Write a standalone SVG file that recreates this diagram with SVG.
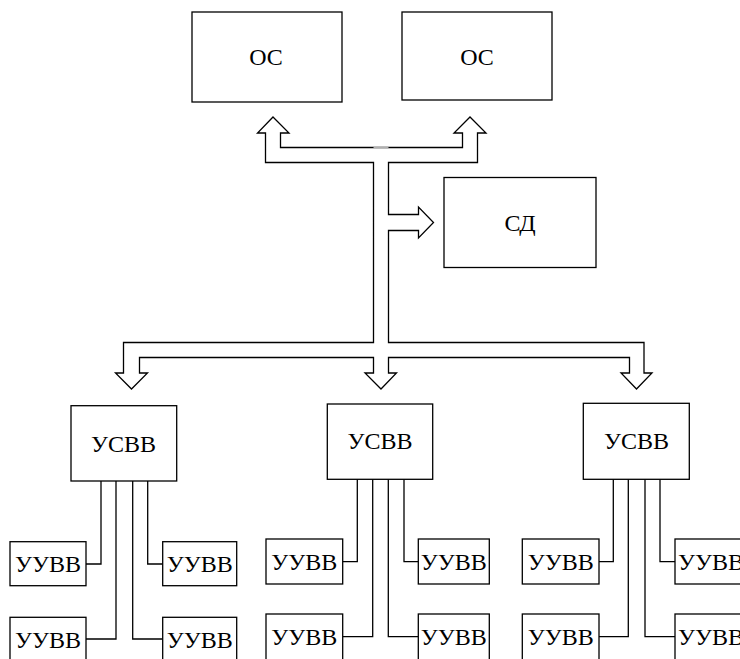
<svg xmlns="http://www.w3.org/2000/svg" width="740" height="659" viewBox="0 0 740 659">
<style>
  .box { fill: #fff; stroke: #000; stroke-width: 1.3; }
  .lbl { font-family: "Liberation Serif", "Times New Roman", serif; font-size: 24px; fill: #000; text-anchor: middle; }
  .ln { fill: none; stroke: #000; stroke-width: 1.3; }
  .bus { fill: #fff; stroke: #000; stroke-width: 1.3; stroke-linejoin: miter; }
</style>
<rect width="740" height="659" fill="#fff"/>

<g id="connectors">
  <path class="bus" d="M273,117 L289,133 L280.5,133 L280.5,147.5 L462.5,147.5 L462.5,133 L454,133 L470,117 L486,133 L477.5,133 L477.5,162.5 L388.5,162.5 L388.5,214.5 L418.5,214.5 L418.5,207 L433.5,222.5 L418.5,238 L418.5,230.5 L388.5,230.5 L388.5,342.5 L644,342.5 L644,373 L652,373 L636.5,389 L621,373 L629.5,373 L629.5,357.5 L388.5,357.5 L388.5,373 L396.5,373 L381,389 L365,373 L373.5,373 L373.5,357.5 L139.5,357.5 L139.5,373 L147.5,373 L131.5,389 L115.5,373 L123.5,373 L123.5,342.5 L373.5,342.5 L373.5,162.5 L265.5,162.5 L265.5,133 L257.5,133 Z"/>
  <line x1="373.5" y1="147.5" x2="388.5" y2="147.5" stroke="#b0b0b0" stroke-width="1.3"/>

  <!-- left group -->
  <path class="ln" d="M101,481 V564 H86"/>
  <path class="ln" d="M116,481 V639 H86"/>
  <path class="ln" d="M132.7,481 V639 H162.7"/>
  <path class="ln" d="M147.7,481 V564 H162.7"/>
  <!-- centre group -->
  <path class="ln" d="M357.3,479.3 V561.7 H342.7"/>
  <path class="ln" d="M372.7,479.3 V636.7 H342.7"/>
  <path class="ln" d="M388.3,479.3 V636.7 H418.3"/>
  <path class="ln" d="M404,479.3 V561.7 H418.3"/>
  <!-- right group -->
  <path class="ln" d="M613.3,479.3 V561.7 H599"/>
  <path class="ln" d="M628.3,479.3 V636.7 H599"/>
  <path class="ln" d="M645,479.3 V636.7 H675"/>
  <path class="ln" d="M660,479.3 V561.7 H675"/>
</g>

<g id="os1"><rect class="box" x="192" y="12" width="150" height="90"/><text class="lbl" x="266" y="65">ОС</text></g>
<g id="os2"><rect class="box" x="402" y="12" width="150" height="88"/><text class="lbl" x="477" y="65">ОС</text></g>
<g id="sd"><rect class="box" x="444" y="177.5" width="152" height="90"/><text class="lbl" x="520" y="231">СД</text></g>

<g id="usvv1"><rect class="box" x="71" y="405.7" width="105.7" height="75.3"/><text class="lbl" x="123.5" y="451.5">УСВВ</text></g>
<g id="usvv2"><rect class="box" x="327.3" y="404" width="105.4" height="75.3"/><text class="lbl" x="380" y="448.5">УСВВ</text></g>
<g id="usvv3"><rect class="box" x="583.3" y="403.3" width="106" height="76"/><text class="lbl" x="636.5" y="448.5">УСВВ</text></g>

<g id="uuvv1a"><rect class="box" x="10" y="541.7" width="76" height="44"/><text class="lbl" x="48" y="572">УУВВ</text></g>
<g id="uuvv1b"><rect class="box" x="162.7" y="541.7" width="74" height="44"/><text class="lbl" x="199.7" y="572">УУВВ</text></g>
<g id="uuvv1c"><rect class="box" x="10" y="617.3" width="76" height="44"/><text class="lbl" x="48" y="647.5">УУВВ</text></g>
<g id="uuvv1d"><rect class="box" x="162.7" y="617.3" width="74" height="44"/><text class="lbl" x="199.7" y="647.5">УУВВ</text></g>

<g id="uuvv2a"><rect class="box" x="266" y="539" width="76.7" height="45"/><text class="lbl" x="304.3" y="569.5">УУВВ</text></g>
<g id="uuvv2b"><rect class="box" x="418.3" y="539" width="71" height="45"/><text class="lbl" x="453.8" y="569.5">УУВВ</text></g>
<g id="uuvv2c"><rect class="box" x="266" y="614" width="76.7" height="47"/><text class="lbl" x="304.3" y="644.5">УУВВ</text></g>
<g id="uuvv2d"><rect class="box" x="418.3" y="614" width="71" height="47"/><text class="lbl" x="453.8" y="644.5">УУВВ</text></g>

<g id="uuvv3a"><rect class="box" x="522.3" y="539" width="76.7" height="45"/><text class="lbl" x="560.7" y="569.5">УУВВ</text></g>
<g id="uuvv3b"><rect class="box" x="675" y="539" width="76" height="45"/><text class="lbl" x="711" y="569.5">УУВВ</text></g>
<g id="uuvv3c"><rect class="box" x="522.3" y="614" width="76.7" height="47"/><text class="lbl" x="560.7" y="644.5">УУВВ</text></g>
<g id="uuvv3d"><rect class="box" x="675" y="614" width="76" height="47"/><text class="lbl" x="711" y="644.5">УУВВ</text></g>
</svg>
